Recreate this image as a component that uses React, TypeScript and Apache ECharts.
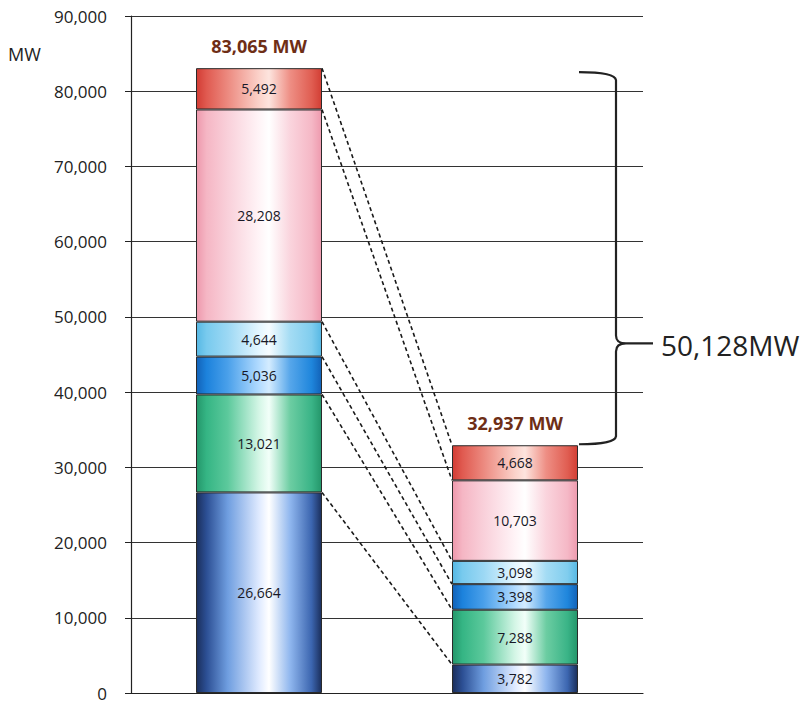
import React, { useEffect, useRef } from "react";
import * as echarts from "echarts";

const categories = ["Before", "After"];
const segmentNames = ["Dark blue", "Green", "Blue", "Light blue", "Pink", "Red"];
const before = [26664, 13021, 5036, 4644, 28208, 5492];
const after = [3782, 7288, 3398, 3098, 10703, 4668];
const totals = [83065, 32937];
const yTicks = { min: 0, max: 90000, interval: 10000 };
const unitLabel = "MW";

const gradients: string[][] = [
  ["#1b2f5c", "#2c4f94", "#6f9ee0", "#dfeaff", "#ffffff", "#8fb6ee", "#3c66b0", "#1b2f5c"],
  ["#24966a", "#35b584", "#5cc99c", "#d4f6e6", "#f2fff9", "#6ccda2", "#3ab487", "#24966a"],
  ["#1262b8", "#1c82dc", "#4aa0ea", "#b2dbff", "#d4ecff", "#56a6ea", "#1f86dc", "#1262b8"],
  ["#56b8e4", "#78caee", "#9cd8f4", "#e4f6ff", "#f6fcff", "#a4dcf4", "#80cdee", "#56b8e4"],
  ["#ee98ac", "#f5b6c4", "#f9d0da", "#fff4f7", "#ffffff", "#fad4dd", "#f5b8c6", "#ee9aae"],
  ["#d23c34", "#e05a50", "#ec8a80", "#fbd2ca", "#fde4de", "#ee8e84", "#e05e52", "#d23e34"],
];
const stopPos = [0, 0.08, 0.25, 0.5, 0.58, 0.75, 0.92, 1];

const fmt = (v: number) => v.toLocaleString("en-US");
const BAR_W = 126;
const FONT = "'Open Sans', sans-serif";

export default function App() {
  const ref = useRef<HTMLDivElement>(null);
  useEffect(() => {
    if (!ref.current) return;
    const chart = echarts.init(ref.current, undefined, { renderer: "svg" });

    const tops = (arr: number[]) => {
      let s = 0;
      return arr.map((v) => (s += v));
    };
    const t1 = tops(before);
    const t2 = tops(after);
    const connectors = t1.map((v, i) => [0, v, 1, t2[i]]);

    const barSeries = segmentNames.map((name, i) => ({
      name,
      type: "bar",
      stack: "total",
      barWidth: BAR_W,
      data: [before[i], after[i]],
      itemStyle: {
        color: {
          type: "linear",
          x: 0,
          y: 0,
          x2: 1,
          y2: 0,
          colorStops: gradients[i].map((c, k) => ({ offset: stopPos[k], color: c })),
        },
        borderColor: "#2a2a2a",
        borderWidth: 1,
      },
      label: {
        show: true,
        position: "inside",
        fontFamily: FONT,
        fontSize: 14,
        color: "#181826",
        formatter: (p: any) => fmt(p.value),
      },
      z: 2,
    }));

    const option: any = {
      animation: false,
      grid: { left: 131, right: 165, top: 16, bottom: 11 },
      xAxis: {
        type: "category",
        data: categories,
        axisLine: { show: true, lineStyle: { color: "#222", width: 1.2 } },
        axisTick: { show: false },
        axisLabel: { show: false },
      },
      yAxis: {
        type: "value",
        min: yTicks.min,
        max: yTicks.max,
        interval: yTicks.interval,
        axisLine: { show: true, lineStyle: { color: "#222", width: 1.2 } },
        axisTick: { show: true, length: 6, lineStyle: { color: "#222" } },
        axisLabel: {
          margin: 24,
          fontFamily: FONT,
          fontSize: 17,
          lineHeight: 15,
          color: "#222",
          formatter: (v: number) => fmt(v),
        },
        splitLine: { show: true, lineStyle: { color: "#333", width: 1 } },
      },
      graphic: [
        {
          type: "text",
          left: 8,
          top: 45,
          style: { text: unitLabel, fontFamily: FONT, fontSize: 18, fill: "#222" },
        },
      ],
      series: [
        ...barSeries,
        {
          type: "custom",
          name: "connectors",
          data: connectors,
          encode: { x: 0, y: 1 },
          z: 5,
          silent: true,
          renderItem: (params: any, api: any) => {
            const p0 = api.coord([api.value(0), api.value(1)]);
            const p1 = api.coord([api.value(2), api.value(3)]);
            return {
              type: "line",
              shape: { x1: p0[0] + BAR_W / 2, y1: p0[1], x2: p1[0] - BAR_W / 2, y2: p1[1] },
              style: { stroke: "#1a1a1a", lineWidth: 1.6, lineDash: [4, 3] },
            };
          },
        },
        {
          type: "custom",
          name: "totals",
          data: totals.map((v, i) => [i, v]),
          encode: { x: 0, y: 1 },
          z: 6,
          silent: true,
          renderItem: (params: any, api: any) => {
            const p = api.coord([api.value(0), api.value(1)]);
            return {
              type: "text",
              x: p[0],
              y: p[1] - 13,
              style: {
                text: fmt(api.value(1)) + " MW",
                fontFamily: FONT,
                fontWeight: "bold",
                fontSize: 18,
                fill: "#6e2e16",
                align: "center",
                verticalAlign: "bottom",
              },
            };
          },
        },
        {
          type: "custom",
          name: "brace",
          data: [[1, totals[0], totals[1]]],
          encode: { x: 0, y: 1 },
          z: 6,
          silent: true,
          renderItem: (params: any, api: any) => {
            const pTop = api.coord([api.value(0), api.value(1)]);
            const pBot = api.coord([api.value(0), api.value(2)]);
            const yTop = pTop[1] + 4;
            const yBot = pBot[1] - 1;
            const xL = pBot[0] + BAR_W / 2 + 1;
            const xv = xL + 37;
            const tipY = yTop + (yBot - yTop) * 0.729;
            const xEnd = xv + 37;
            const d =
              `M ${xL} ${yTop} Q ${xv - 1} ${yTop} ${xv} ${yTop + 8} L ${xv} ${tipY - 8} ` +
              `Q ${xv} ${tipY} ${xv + 10} ${tipY} L ${xEnd} ${tipY} ` +
              `M ${xv + 10} ${tipY} Q ${xv} ${tipY} ${xv} ${tipY + 8} L ${xv} ${yBot - 8} ` +
              `Q ${xv - 1} ${yBot} ${xL} ${yBot}`;
            return {
              type: "group",
              children: [
                {
                  type: "path",
                  shape: { pathData: d },
                  style: { stroke: "#222", lineWidth: 2.2, fill: null },
                },
                {
                  type: "text",
                  x: xEnd + 8,
                  y: tipY + 2,
                  style: {
                    text: fmt(api.value(1) - api.value(2)) + "MW",
                    fontFamily: FONT,
                    fontSize: 28,
                    fill: "#222",
                    align: "left",
                    verticalAlign: "middle",
                  },
                },
              ],
            };
          },
        },
      ],
    };
    chart.setOption(option);
    return () => chart.dispose();
  }, []);
  return <div ref={ref} style={{ width: 808, height: 704, position: "absolute", left: 0, top: 0 }} />;
}
